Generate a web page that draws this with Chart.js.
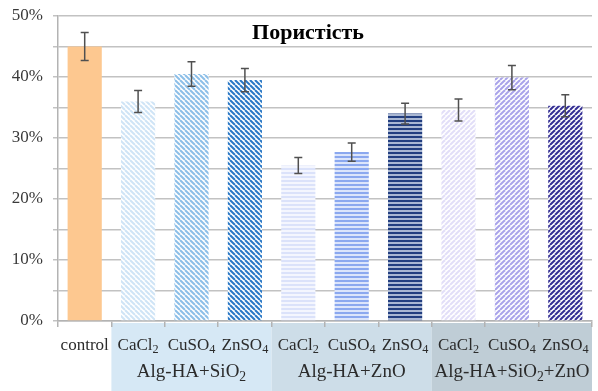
<!DOCTYPE html>
<html>
<head>
<meta charset="utf-8">
<script src="https://cdn.jsdelivr.net/npm/chart.js@4"></script>
<style>
html,body{margin:0;padding:0;background:#fff;}
canvas{display:block;}
</style>
</head>
<body>
<canvas id="c" width="598" height="391"></canvas>
<script>
// ---- data ----
const chartTitle = 'Пористість';
const categories = ['control','CaCl₂','CuSO₄','ZnSO₄','CaCl₂','CuSO₄','ZnSO₄','CaCl₂','CuSO₄','ZnSO₄'];
const porosity = [45.0, 36.0, 40.5, 39.5, 25.5, 27.7, 34.0, 34.6, 39.9, 35.3];
const porosityErr = [2.3, 1.8, 2.0, 1.9, 1.3, 1.5, 1.7, 1.8, 2.0, 1.8];
const groupLabels = ['Alg-HA+SiO₂', 'Alg-HA+ZnO', 'Alg-HA+SiO₂+ZnO'];
const groupStart = [1, 4, 7];
const groupEnd = [3, 6, 9];
const yTickValues = [0, 10, 20, 30, 40, 50];

// ---- styles ----
const groupBandColors = ['#d6e8f5', '#cddde8', '#bfcdd6'];
const serif = '"Liberation Serif", "Times New Roman", serif';
const SUB = '₀₁₂₃₄₅₆₇₈₉';

function makePattern(kind, fg, bg) {
  const s = kind === 'h' ? 4 : 5;
  const c = document.createElement('canvas');
  c.width = s; c.height = s;
  const g = c.getContext('2d');
  g.fillStyle = bg; g.fillRect(0, 0, s, s);
  if (kind === 'h') {
    g.fillStyle = fg; g.fillRect(0, 0, s, 2);
  } else {
    g.strokeStyle = fg; g.lineWidth = 2;
    for (const x0 of [-s, 0, s]) {
      g.beginPath();
      if (kind === 'b') { g.moveTo(x0, 0); g.lineTo(x0 + s, s); }
      else { g.moveTo(x0, s); g.lineTo(x0 + s, 0); }
      g.stroke();
    }
  }
  return document.getElementById('c').getContext('2d').createPattern(c, 'repeat');
}

const barFills = [
  '#fdc890',
  makePattern('b', '#cfe4f6', '#ffffff'),
  makePattern('b', '#8cbfe8', '#ffffff'),
  makePattern('b', '#2a78c6', '#ffffff'),
  makePattern('h', '#dbe2fa', '#f4f6fe'),
  makePattern('h', '#8ba8ef', '#dce5fb'),
  makePattern('h', '#223e80', '#a9b7d3'),
  makePattern('f', '#e2def8', '#ffffff'),
  makePattern('f', '#a9a3ea', '#ffffff'),
  makePattern('f', '#332e94', '#ffffff')
];

// draw text with subscript digits (₀-₉) centred at xc
function drawSubText(ctx, text, xc, y, size) {
  const runs = [];
  for (const ch of text) {
    const k = SUB.indexOf(ch);
    const sub = k >= 0;
    const c = sub ? String(k) : ch;
    if (runs.length && runs[runs.length - 1].sub === sub) runs[runs.length - 1].t += c;
    else runs.push({ t: c, sub });
  }
  let w = 0;
  runs.forEach(r => {
    ctx.font = (r.sub ? size * 0.72 : size) + 'px ' + serif;
    r.w = ctx.measureText(r.t).width; w += r.w;
  });
  let x = xc - w / 2;
  ctx.textAlign = 'left';
  ctx.textBaseline = 'alphabetic';
  runs.forEach(r => {
    ctx.font = (r.sub ? size * 0.72 : size) + 'px ' + serif;
    ctx.fillText(r.t, x, y + (r.sub ? size * 0.2 : 0));
    x += r.w;
  });
}

const bandsPlugin = {
  id: 'bands',
  beforeDraw(chart) {
    const ctx = chart.ctx, xs = chart.scales.x, ca = chart.chartArea;
    const half = (xs.getPixelForValue(1) - xs.getPixelForValue(0)) / 2;
    ctx.save();
    groupLabels.forEach((lab, k) => {
      const x0 = xs.getPixelForValue(groupStart[k]) - half;
      const x1 = xs.getPixelForValue(groupEnd[k]) + half;
      ctx.fillStyle = groupBandColors[k];
      ctx.fillRect(x0, ca.bottom + 2, x1 - x0, chart.height - ca.bottom - 2);
    });
    ctx.restore();
  },
  afterDraw(chart) {
    const ctx = chart.ctx, xs = chart.scales.x, ca = chart.chartArea;
    ctx.save();
    ctx.fillStyle = '#2b2b2b';
    categories.forEach((lab, i) => {
      drawSubText(ctx, lab, xs.getPixelForValue(i), ca.bottom + 29, 17);
    });
    groupLabels.forEach((lab, k) => {
      const xc = (xs.getPixelForValue(groupStart[k]) + xs.getPixelForValue(groupEnd[k])) / 2;
      drawSubText(ctx, lab, xc, ca.bottom + 56, 19);
    });
    // title
    ctx.fillStyle = '#000';
    ctx.font = 'bold 22px ' + serif;
    ctx.textAlign = 'center';
    ctx.textBaseline = 'alphabetic';
    ctx.fillText(chartTitle, 308, 39);
    ctx.restore();
  }
};

const errorBarPlugin = {
  id: 'errbars',
  afterDatasetsDraw(chart) {
    const ctx = chart.ctx, ys = chart.scales.y;
    const meta = chart.getDatasetMeta(0);
    ctx.save();
    ctx.strokeStyle = '#505050';
    ctx.lineWidth = 1.5;
    meta.data.forEach((bar, i) => {
      const x = bar.x;
      const yt = ys.getPixelForValue(porosity[i] + porosityErr[i]);
      const yb = ys.getPixelForValue(porosity[i] - porosityErr[i]);
      ctx.beginPath();
      ctx.moveTo(x, yt); ctx.lineTo(x, yb);
      ctx.moveTo(x - 4, yt); ctx.lineTo(x + 4, yt);
      ctx.moveTo(x - 4, yb); ctx.lineTo(x + 4, yb);
      ctx.stroke();
    });
    ctx.restore();
  }
};

new Chart(document.getElementById('c'), {
  type: 'bar',
  data: {
    labels: categories,
    datasets: [{
      data: porosity,
      backgroundColor: barFills,
      borderWidth: 0,
      barPercentage: 0.64,
      categoryPercentage: 1.0
    }]
  },
  options: {
    responsive: false,
    animation: false,
    devicePixelRatio: 1,
    layout: { padding: { top: 16, right: 6, left: 0, bottom: 0 } },
    plugins: { legend: { display: false }, title: { display: false }, tooltip: { enabled: false } },
    scales: {
      x: {
        offset: true,
        grid: { offset: true, drawOnChartArea: false, color: '#b3b3b3', lineWidth: 1.5, tickLength: 6 },
        border: { color: '#b3b3b3', width: 1.5 },
        ticks: { display: false },
        afterFit(s) { s.height = 70; }
      },
      y: {
        min: 0, max: 50,
        grid: { color: '#c2c2c2', lineWidth: 1.5, tickLength: 5 },
        border: { color: '#b3b3b3', width: 1.5 },
        ticks: {
          stepSize: 5,
          color: '#3a3a3a',
          font: { family: serif, size: 17 },
          padding: 10,
          callback: v => yTickValues.includes(v) ? v + '%' : ''
        },
        afterFit(s) { s.width = 58; s.paddingTop = 4; s.paddingBottom = 4; }
      }
    }
  },
  plugins: [bandsPlugin, errorBarPlugin]
});
</script>
</body>
</html>
